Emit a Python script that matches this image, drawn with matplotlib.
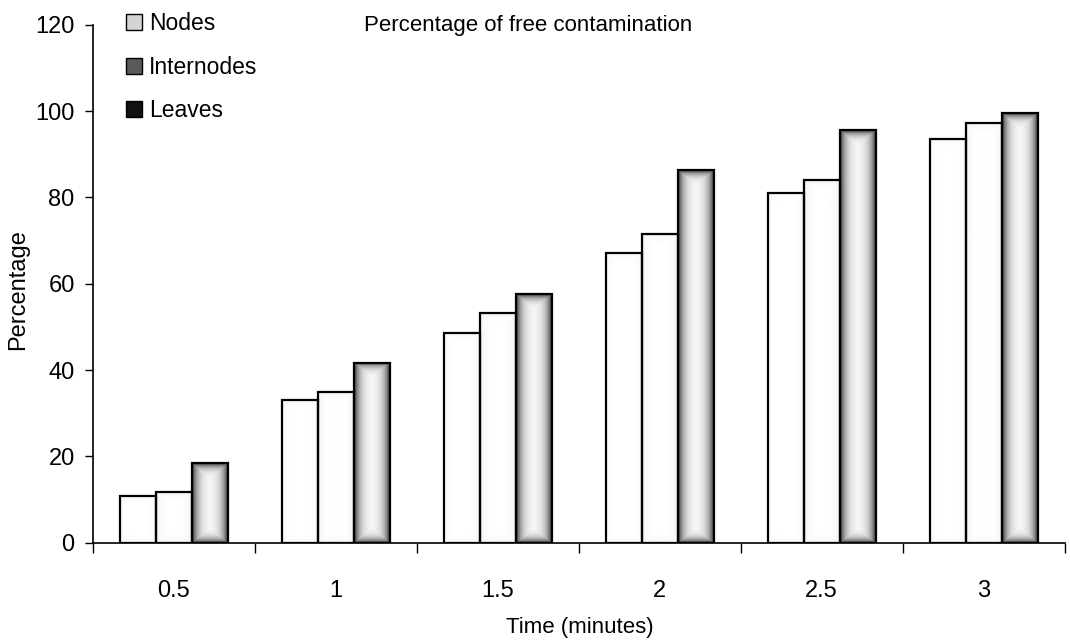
import numpy as np
import matplotlib
matplotlib.use('Agg')
from matplotlib import pyplot as plt
from matplotlib.patches import Patch

plt.rcParams['font.family'] = ['Liberation Sans', 'DejaVu Sans']

times = ['0.5', '1', '1.5', '2', '2.5', '3']
nodes = [10.8, 33.1, 48.6, 67.0, 81.0, 93.5]
internodes = [11.8, 35.0, 53.2, 71.5, 84.0, 97.2]
leaves = [18.5, 41.7, 57.5, 86.3, 95.6, 99.6]

series = [('Nodes', nodes, 0.97, '#d4d4d4'),
          ('Internodes', internodes, 0.94, '#5a5a5a'),
          ('Leaves', leaves, 0.15, '#111111')]

fig = plt.figure(figsize=(10.7, 6.43), dpi=100)
ax = fig.add_axes([92.7/1070, 100.3/643, 972/1070, 518/643])
ax.set_xlim(-0.5, 5.5)
ax.set_ylim(0, 120)

x = np.arange(len(times))
w = 0.222
px_per_x = 972 / 6.0
px_per_y = 518 / 120.0


def shade(bar, edge_val, spread):
    # gradient: grey near the edges, white in the middle
    bx, by = bar.get_x(), bar.get_y()
    bw, bh = bar.get_width(), bar.get_height()
    wp = max(int(bw * px_per_x), 2)
    hp = max(int(bh * px_per_y), 2)
    xx = np.arange(wp) + 0.5
    yy = np.arange(hp) + 0.5
    dx = np.minimum(xx, wp - xx)[None, :]
    dy = np.minimum(yy, hp - yy)[:, None]
    d = np.minimum(dx, dy * 1.2)
    g = edge_val + (1 - edge_val) * (1 - np.exp(-d / spread))
    im = ax.imshow(g, cmap='gray', vmin=0, vmax=1, aspect='auto',
                   extent=(bx, bx + bw, by, by + bh), origin='lower',
                   interpolation='bilinear', zorder=2)
    im.set_clip_path(bar)


for i, (name, vals, edge_val, col) in enumerate(series):
    bars = ax.bar(x + (i - 1) * w, vals, w, facecolor='none',
                  edgecolor='black', linewidth=1.6, zorder=3)
    for b in bars:
        shade(b, edge_val, 5.5 if i == 2 else 4.0)

ax.set_xlim(-0.5, 5.5)
ax.set_ylim(0, 120)

for s in ['top', 'right']:
    ax.spines[s].set_visible(False)
ax.spines['left'].set_linewidth(1.2)
ax.spines['bottom'].set_linewidth(1.2)

ax.set_yticks(range(0, 121, 20))
ax.tick_params(axis='y', direction='out', length=6, width=1, labelsize=17, pad=7)
ax.set_xticks(x)
ax.set_xticklabels(times)
ax.set_xticks(np.arange(-0.5, 6.0, 1.0), minor=True)
ax.tick_params(axis='x', which='major', length=0, labelsize=17, pad=27)
ax.tick_params(axis='x', which='minor', direction='out', length=7, width=1)

fig.text(18/1070, 1 - 290/643, 'Percentage', rotation=90, ha='center', va='center', fontsize=17)
fig.text(580/1070, 1 - 627/643, 'Time (minutes)', ha='center', va='center', fontsize=16)
fig.text(528/1070, 1 - 26/643, 'Percentage of free contamination', ha='center', va='center', fontsize=16)

handles = [Patch(facecolor=c, edgecolor='black', linewidth=1) for _, _, _, c in series]
fig.legend(handles, [s[0] for s in series], loc='upper left',
           bbox_to_anchor=(126/1070, 1 - 12/643), frameon=False, fontsize=16.5,
           handlelength=0.7, handleheight=0.7, handletextpad=0.3,
           labelspacing=0.9, borderpad=0, borderaxespad=0)

fig.savefig('out.png', dpi=100, facecolor='white')
